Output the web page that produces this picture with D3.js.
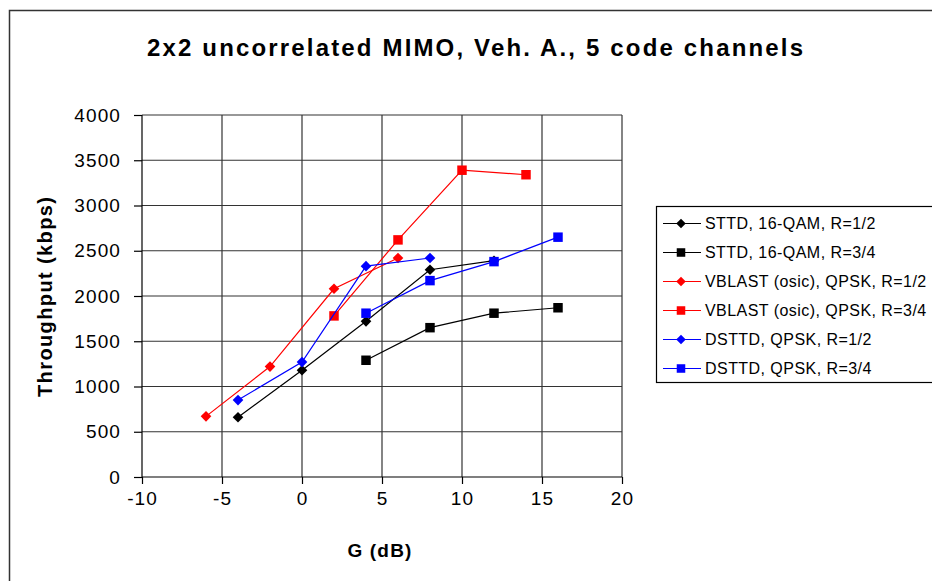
<!DOCTYPE html>
<html>
<head>
<meta charset="utf-8">
<script src="https://cdn.jsdelivr.net/npm/d3@7"></script>
<style>
  html, body { margin: 0; padding: 0; background: #fff; }
  svg { display: block; font-family: Arial, "Liberation Sans", sans-serif; }
</style>
</head>
<body>
<svg id="chart" width="932" height="581"></svg>
<script>
// Throughput vs. G for 2x2 MIMO schemes
const seriesNames = [
  "STTD, 16-QAM, R=1/2",
  "STTD, 16-QAM, R=3/4",
  "VBLAST (osic), QPSK, R=1/2",
  "VBLAST (osic), QPSK, R=3/4",
  "DSTTD, QPSK, R=1/2",
  "DSTTD, QPSK, R=3/4"
];
const seriesColors = ["#000000", "#000000", "#ff0000", "#ff0000", "#0000ff", "#0000ff"];
const seriesMarkers = ["diamond", "square", "diamond", "square", "diamond", "square"];

const sttdHalfG = [-4, 0, 4, 8, 12];
const sttdHalfTp = [660, 1180, 1720, 2290, 2390];
const sttdThreeQG = [4, 8, 12, 16];
const sttdThreeQTp = [1290, 1650, 1810, 1870];
const vblastHalfG = [-6, -2, 2, 6];
const vblastHalfTp = [670, 1220, 2080, 2420];
const vblastThreeQG = [2, 6, 10, 14];
const vblastThreeQTp = [1780, 2620, 3390, 3340];
const dsttdHalfG = [-4, 0, 4, 8];
const dsttdHalfTp = [850, 1270, 2330, 2420];
const dsttdThreeQG = [4, 8, 12, 16];
const dsttdThreeQTp = [1810, 2170, 2380, 2650];

const xTicks = [-10, -5, 0, 5, 10, 15, 20];
const yTicks = [0, 500, 1000, 1500, 2000, 2500, 3000, 3500, 4000];

const titleText = "2x2 uncorrelated MIMO, Veh. A., 5 code channels";
const xTitle = "G (dB)";
const yTitle = "Throughput (kbps)";

const seriesG = [sttdHalfG, sttdThreeQG, vblastHalfG, vblastThreeQG, dsttdHalfG, dsttdThreeQG];
const seriesTp = [sttdHalfTp, sttdThreeQTp, vblastHalfTp, vblastThreeQTp, dsttdHalfTp, dsttdThreeQTp];
const series = seriesNames.map((name, i) => ({
  name,
  color: seriesColors[i],
  marker: seriesMarkers[i],
  points: seriesG[i].map((g, j) => ({ g, tp: seriesTp[i][j] }))
}));

const svg = d3.select("#chart");

// chart area frame
svg.append("rect")
  .attr("x", 9.5).attr("y", 10.5)
  .attr("width", 1000).attr("height", 1000)
  .attr("fill", "#fff").attr("stroke", "#333").attr("stroke-width", 1.5);

const plot = { left: 142, right: 622, top: 115, bottom: 477 };
const x = d3.scaleLinear().domain([-10, 20]).range([plot.left, plot.right]);
const y = d3.scaleLinear().domain([0, 4000]).range([plot.bottom, plot.top]);

// title
svg.append("text")
  .attr("x", 147).attr("y", 56)
  .attr("font-size", 24).attr("font-weight", "bold")
  .attr("textLength", 656).attr("lengthAdjust", "spacing")
  .text(titleText);

// gridlines
const grid = svg.append("g").attr("stroke", "#333").attr("stroke-width", 1.2);
grid.selectAll("line.h").data(yTicks.filter(v => v > 0)).join("line")
  .attr("x1", plot.left).attr("x2", plot.right)
  .attr("y1", d => y(d)).attr("y2", d => y(d));
grid.selectAll("line.v").data(xTicks.filter(v => v > -10)).join("line")
  .attr("y1", plot.top).attr("y2", plot.bottom)
  .attr("x1", d => x(d)).attr("x2", d => x(d));

// axes (plain hyphen for negative numbers)
const plain = d => String(d);
const xAxis = d3.axisBottom(x).tickValues(xTicks).tickSize(7).tickPadding(8).tickFormat(plain);
const yAxis = d3.axisLeft(y).tickValues(yTicks).tickSize(8).tickPadding(13).tickFormat(plain);

const gx = svg.append("g").attr("transform", `translate(0,${plot.bottom})`).call(xAxis);
const gy = svg.append("g").attr("transform", `translate(${plot.left},0)`).call(yAxis);
[gx, gy].forEach(g => {
  g.select(".domain").attr("stroke", "#000").attr("stroke-width", 1.2);
  g.selectAll(".tick line").attr("stroke", "#000").attr("stroke-width", 1.2);
  g.selectAll(".tick text")
    .attr("fill", "#000")
    .attr("font-family", "Arial, 'Liberation Sans', sans-serif")
    .attr("font-size", 19)
    .attr("letter-spacing", 1.1);
});
gx.select(".domain").attr("d", `M${plot.left},0H${plot.right}`);
gy.select(".domain").attr("d", `M0,${plot.bottom}V${plot.top}`);

// axis titles
svg.append("text")
  .attr("x", 380).attr("y", 557)
  .attr("text-anchor", "middle")
  .attr("font-size", 19).attr("font-weight", "bold")
  .attr("letter-spacing", 1.2)
  .text(xTitle);
svg.append("text")
  .attr("transform", "translate(52,297) rotate(-90)")
  .attr("text-anchor", "middle")
  .attr("font-size", 20).attr("font-weight", "bold")
  .attr("textLength", 200).attr("lengthAdjust", "spacing")
  .text(yTitle);

// marker shapes
const diamond = d3.symbol().type(d3.symbolDiamond2).size(72);
const square = d3.symbol().type(d3.symbolSquare).size(90);
const markerPath = m => (m === "diamond" ? diamond() : square());

const line = d3.line().x(d => x(d.g)).y(d => y(d.tp));

const seriesLayer = svg.append("g").selectAll("g").data(series).join("g");
seriesLayer.append("path")
  .attr("d", d => line(d.points))
  .attr("fill", "none")
  .attr("stroke", d => d.color)
  .attr("stroke-width", 1.2);
seriesLayer.each(function (s) {
  d3.select(this).selectAll("path.mk").data(s.points).join("path")
    .attr("class", "mk")
    .attr("d", markerPath(s.marker))
    .attr("transform", d => `translate(${x(d.g)},${y(d.tp)})`)
    .attr("fill", s.color);
});

// legend
const legend = svg.append("g");
legend.append("rect")
  .attr("x", 656.5).attr("y", 206.5)
  .attr("width", 320).attr("height", 176)
  .attr("fill", "#fff").attr("stroke", "#000").attr("stroke-width", 1.2);
const rowY = i => 223.5 + i * 29;
const rows = legend.selectAll("g.row").data(series).join("g")
  .attr("class", "row")
  .attr("transform", (d, i) => `translate(0,${rowY(i)})`);
rows.append("line")
  .attr("x1", 663).attr("x2", 701)
  .attr("stroke", d => d.color).attr("stroke-width", 1.2);
rows.append("path")
  .attr("d", d => markerPath(d.marker))
  .attr("transform", "translate(681,0) scale(0.9)")
  .attr("fill", d => d.color);
rows.append("text")
  .attr("x", 705).attr("dy", "0.36em")
  .attr("font-size", 16)
  .attr("letter-spacing", 0.45)
  .text(d => d.name);
</script>
</body>
</html>
